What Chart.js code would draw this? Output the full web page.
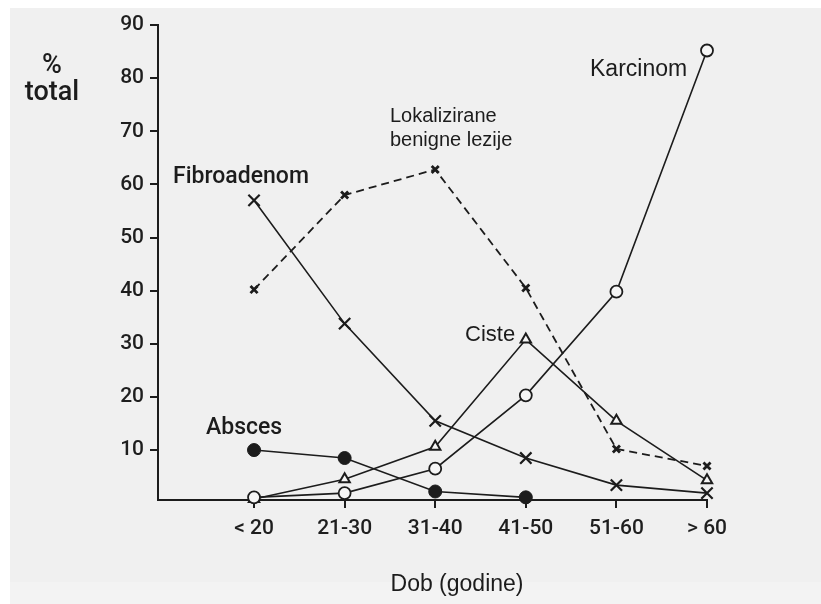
<!DOCTYPE html>
<html>
<head>
<meta charset="utf-8">
<script src="https://cdn.jsdelivr.net/npm/chart.js@4.4.1/dist/chart.umd.min.js"></script>
<style>
  html, body { margin: 0; padding: 0; background: #fff; }
</style>
</head>
<body>
<canvas id="chart" width="821" height="604"></canvas>
<script>
//age groups on the x axis
const ageGroups = ["< 20", "21-30", "31-40", "41-50", "51-60", "> 60"];
//tick labels on the y axis
const yTicks = [10, 20, 30, 40, 50, 60, 70, 80, 90];
//% total per age group, one array per lesion type
const karcinom = [1.1, 1.9, 6.5, 20.3, 39.8, 85.2];
const ciste = [0.8, 4.5, 10.6, 30.8, 15.5, 4.3];
const fibroadenom = [57, 33.8, 15.5, 8.5, 3.4, 1.9];
const lokalizirane = [40.2, 58, 62.8, 40.5, 10.2, 7];
const absces = [10, 8.5, 2.2, 1.1];

const ink = "#1c1c1c";
const paper = "#f0f0f0";
//the condensed, heavier face used for ticks and some names
const heavy = "Roboto, 'Liberation Sans', Arial, sans-serif";
const plain = "'Liberation Sans', Arial, sans-serif";

//turn a value list into points on the linear x scale
const toPoints = (values) => values.map((v, i) => ({ x: i, y: v }));

//gray panel behind the chart, white margin round it
const backgroundPlugin = {
  id: "panel",
  beforeDraw(chart) {
    const ctx = chart.ctx;
    ctx.save();
    ctx.fillStyle = "#ffffff";
    ctx.fillRect(0, 0, chart.width, chart.height);
    ctx.fillStyle = paper;
    ctx.fillRect(10, 8, chart.width - 10, chart.height - 8);
    ctx.fillStyle = "#f3f3f3";
    ctx.fillRect(10, 582, chart.width - 10, chart.height - 582);
    ctx.restore();
  },
};

//free text labels: axis titles and series names
const textPlugin = {
  id: "texts",
  afterDraw(chart) {
    const ctx = chart.ctx;
    ctx.save();
    ctx.fillStyle = ink;
    ctx.textBaseline = "alphabetic";
    //y axis title, horizontal on two lines
    ctx.textAlign = "center";
    ctx.font = "500 27px " + heavy;
    ctx.fillText("%", 52, 73);
    ctx.fillText("total", 52, 100);
    //x axis title
    ctx.font = "23px " + plain;
    ctx.fillText("Dob (godine)", 457, 591);
    //series names
    ctx.textAlign = "left";
    ctx.font = "500 23px " + heavy;
    ctx.fillText("Fibroadenom", 173, 183);
    ctx.fillText("Absces", 206, 434);
    ctx.font = "23px " + plain;
    ctx.fillText("Karcinom", 590, 76);
    ctx.font = "22px " + plain;
    ctx.fillText("Ciste", 465, 341);
    ctx.font = "20px " + plain;
    ctx.fillText("Lokalizirane", 390, 122);
    ctx.fillText("benigne lezije", 390, 146);
    ctx.restore();
  },
};

const lineBase = {
  borderColor: ink,
  borderWidth: 1.6,
  pointBorderColor: ink,
  tension: 0,
  clip: false,
};

let myChart = new Chart(document.getElementById("chart"), {
  type: "line",
  plugins: [backgroundPlugin, textPlugin],
  data: {
    datasets: [
      {
        ...lineBase,
        label: "Karcinom",
        data: toPoints(karcinom),
        pointStyle: "circle",
        pointRadius: 6,
        pointBorderWidth: 1.8,
        pointBackgroundColor: "#f6f6f6",
      },
      {
        ...lineBase,
        label: "Absces",
        data: toPoints(absces),
        pointStyle: "circle",
        pointRadius: 6.5,
        pointBorderWidth: 1,
        pointBackgroundColor: ink,
      },
      {
        ...lineBase,
        label: "Ciste",
        data: toPoints(ciste),
        pointStyle: "triangle",
        pointRadius: 6,
        pointBorderWidth: 2,
        pointBackgroundColor: "#f6f6f6",
      },
      {
        ...lineBase,
        label: "Fibroadenom",
        data: toPoints(fibroadenom),
        pointStyle: "crossRot",
        pointRadius: 8,
        pointBorderWidth: 2.2,
      },
      {
        ...lineBase,
        label: "Lokalizirane benigne lezije",
        data: toPoints(lokalizirane),
        borderDash: [8, 5],
        borderWidth: 1.8,
        pointStyle: "crossRot",
        pointRadius: 5,
        pointBorderWidth: 2.8,
      },
    ],
  },
  options: {
    responsive: false,
    animation: false,
    devicePixelRatio: 1,
    layout: { padding: { left: 0, top: 25, right: 114, bottom: 0 } },
    plugins: {
      legend: { display: false },
      tooltip: { enabled: false },
    },
    scales: {
      x: {
        type: "linear",
        min: -1.06,
        max: 5,
        afterFit: (scale) => { scale.height = 104; },
        afterBuildTicks: (scale) => {
          scale.ticks = ageGroups.map((_, i) => ({ value: i }));
        },
        border: { display: true, color: ink, width: 2 },
        grid: { drawOnChartArea: false, drawTicks: true, tickLength: 8, color: ink, lineWidth: 2 },
        ticks: {
          color: "#1e1e1e",
          padding: 8,
          autoSkip: false,
          maxRotation: 0,
          font: { family: heavy, size: 21, weight: "500" },
          callback: (v) => ageGroups[v],
        },
      },
      y: {
        min: 0.6,
        max: 90,
        afterFit: (scale) => { scale.width = 158; },
        afterBuildTicks: (scale) => {
          scale.ticks = yTicks.map((v) => ({ value: v }));
        },
        border: { display: true, color: ink, width: 2 },
        grid: { drawOnChartArea: false, drawTicks: true, tickLength: 8, color: ink, lineWidth: 2 },
        ticks: {
          color: "#1e1e1e",
          padding: 6,
          font: { family: heavy, size: 21, weight: "500" },
        },
      },
    },
  },
});
</script>
</body>
</html>
